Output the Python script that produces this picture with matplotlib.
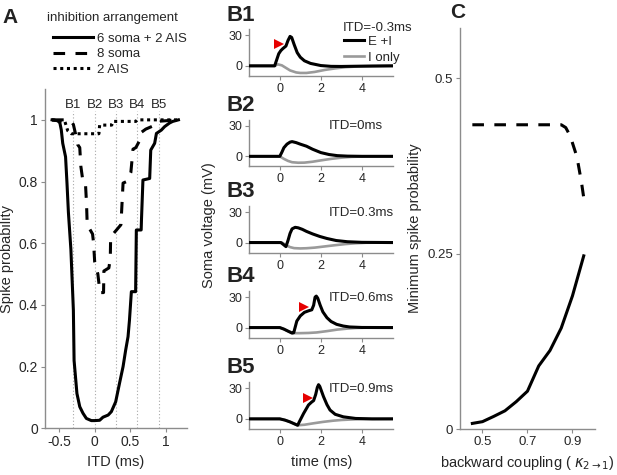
import matplotlib
matplotlib.use("Agg")
import matplotlib.pyplot as plt
from matplotlib.lines import Line2D

plt.rcParams['font.family'] = ['Liberation Sans', 'DejaVu Sans']
plt.rcParams['axes.unicode_minus'] = False

# ---------------- data ----------------
# Panel A: spike probability vs ITD
itd_solid = [-0.60, -0.52, -0.49, -0.47, -0.45, -0.41, -0.39, -0.37, -0.335, -0.30, -0.29, -0.25,
             -0.21, -0.165, -0.117, -0.047, 0.0, 0.07, 0.117, 0.19, 0.235, 0.296, 0.35, 0.40,
             0.437, 0.47, 0.49, 0.517, 0.577, 0.587, 0.655, 0.66, 0.68, 0.775, 0.79, 0.845,
             0.87, 0.94, 0.985, 1.056, 1.10, 1.18]
prob_solid = [1.0, 0.997, 0.99, 0.967, 0.924, 0.88, 0.795, 0.70, 0.58, 0.383, 0.22, 0.113,
              0.07, 0.049, 0.032, 0.025, 0.025, 0.026, 0.036, 0.043, 0.054, 0.086, 0.146, 0.2,
              0.254, 0.297, 0.35, 0.443, 0.443, 0.643, 0.643, 0.68, 0.805, 0.81, 0.902, 0.924,
              0.956, 0.967, 0.978, 0.99, 0.995, 1.0]
itd_dash = [-0.60, -0.35, -0.30, -0.27, -0.24, -0.21, -0.195, -0.165, -0.13, -0.115, -0.105,
            -0.03, -0.015, 0.0, 0.045, 0.06, 0.07, 0.125, 0.13, 0.20, 0.22, 0.225, 0.26, 0.37,
            0.39, 0.40, 0.45, 0.51, 0.53, 0.54, 0.58, 0.65, 0.66, 0.72, 0.82, 0.87, 1.18]
prob_dash = [1.0, 1.0, 0.985, 0.955, 0.92, 0.91, 0.85, 0.80, 0.795, 0.73, 0.66, 0.63, 0.60,
             0.54, 0.50, 0.47, 0.44, 0.44, 0.51, 0.52, 0.55, 0.62, 0.63, 0.66, 0.75, 0.795,
             0.80, 0.83, 0.88, 0.905, 0.91, 0.94, 0.96, 0.97, 0.98, 0.995, 1.0]
itd_dot = [-0.60, -0.42, -0.38, -0.33, 0.06, 0.07, 0.24, 0.26, 0.58, 0.60, 1.18]
prob_dot = [1.0, 0.995, 0.965, 0.955, 0.955, 0.983, 0.983, 0.995, 0.995, 1.0, 1.0]
legend_title_A = 'inhibition arrangement'
legend_labels_A = ['6 soma + 2 AIS', '8 soma', '2 AIS']
itd_marks = [-0.3, 0.0, 0.3, 0.6, 0.9]
itd_mark_labels = ['B1', 'B2', 'B3', 'B4', 'B5']

# Panel B: soma voltage traces
b_titles = ['ITD=-0.3ms', 'ITD=0ms', 'ITD=0.3ms', 'ITD=0.6ms', 'ITD=0.9ms']
b1_t_ei = [-1.5, -0.25, -0.15, -0.05, 0.05, 0.15, 0.3, 0.4, 0.5, 0.58, 0.7, 0.85, 1.0, 1.2, 1.5, 2.0, 2.5, 3.0, 4.0, 5.5]
b1_v_ei = [0, 0, 6, 12, 15, 17, 19.5, 25, 29, 28, 21, 13, 8.5, 5, 2.4, 0.3, -0.5, -0.6, -0.3, 0]
b1_t_i = [-1.5, -0.25, -0.1, 0.1, 0.3, 0.5, 0.8, 1.0, 1.3, 1.7, 2.2, 2.7, 3.2, 3.8, 4.5, 5.5]
b1_v_i = [0, 0, 1.5, 0.5, -2, -4.5, -6.5, -7, -7, -6, -4, -2.5, -1.3, -0.6, -0.2, 0]

b2_t_ei = [-1.5, 0.0, 0.1, 0.2, 0.35, 0.5, 0.6, 0.8, 1.0, 1.3, 1.6, 2.0, 2.4, 2.8, 3.3, 4.0, 5.5]
b2_v_ei = [0, 0, 4, 8.5, 12, 14, 14.5, 13.5, 12, 10, 7, 3.7, 1.8, 0.7, 0.2, 0, 0]
b2_t_i = [-1.5, 0.0, 0.2, 0.4, 0.6, 0.9, 1.2, 1.6, 2.0, 2.5, 3.0, 3.5, 4.2, 5.5]
b2_v_i = [0, 0, -2.5, -4.5, -5.8, -6.3, -6.2, -5.3, -4, -2.5, -1.3, -0.5, -0.1, 0]

b3_t_ei = [-1.5, 0.05, 0.15, 0.3, 0.4, 0.5, 0.6, 0.75, 0.9, 1.1, 1.3, 1.6, 1.95, 2.3, 2.75, 3.3, 4.0, 5.5]
b3_v_ei = [0, 0, -1.5, -4, 2, 9, 13.5, 15, 14.5, 13, 11, 8.5, 6, 4, 2, 0.8, 0.2, 0]
b3_t_i = [-1.5, 0.1, 0.3, 0.5, 0.7, 1.0, 1.3, 1.7, 2.2, 2.7, 3.2, 3.7, 4.2, 5.5]
b3_v_i = [0, 0, -2.5, -4.5, -5.5, -5.8, -5.6, -5, -3.8, -2.6, -1.5, -0.7, -0.2, 0]

b4_t_ei = [-1.5, 0.0, 0.2, 0.4, 0.6, 0.68, 0.83, 1.0, 1.2, 1.4, 1.56, 1.65, 1.72, 1.78, 1.85, 1.97, 2.1, 2.3, 2.5, 2.77, 3.1, 3.4, 4.0, 5.5]
b4_v_ei = [0, 0, -1.5, -3.5, -5.5, -5, 6.4, 11.5, 15, 16.5, 17.5, 22, 30, 31, 29, 22, 15.5, 9.7, 6, 3.2, 1.5, 0.6, 0.1, 0]
b4_t_i = [-1.5, 0.0, 0.2, 0.4, 0.68, 1.0, 1.4, 1.8, 2.3, 2.8, 3.3, 3.7, 4.2, 5.5]
b4_v_i = [0, 0, -1.5, -3.5, -5.5, -5.5, -5.3, -4.8, -3.5, -2, -1, -0.4, -0.1, 0]

b5_t_ei = [-1.5, 0.0, 0.25, 0.5, 0.7, 0.87, 0.95, 1.16, 1.4, 1.55, 1.65, 1.75, 1.83, 1.89, 1.95, 2.13, 2.3, 2.45, 2.7, 3.1, 3.7, 4.5, 5.5]
b5_v_ei = [0, 0, -1.2, -3, -4.8, -6.3, -3, 5.3, 13.7, 16.5, 18, 24, 31, 33.7, 32, 22, 14, 8.7, 4.5, 2, 0.4, 0, 0]
b5_t_i = [-1.5, 0.0, 0.25, 0.5, 0.87, 1.2, 1.6, 2.1, 2.6, 3.0, 3.4, 4.0, 5.5]
b5_v_i = [0, 0, -1.2, -3, -6.3, -5.8, -4.5, -3, -1.8, -1.1, -0.7, -0.2, 0]

# red arrowheads (panel index, time, voltage)
arrow_panels = [0, 3, 4]
arrow_t = [-0.05, 1.16, 1.36]
arrow_v = [22, 20.5, 20.7]

# Panel C
kappa_solid = [0.455, 0.5, 0.55, 0.6, 0.65, 0.7, 0.725, 0.75, 0.8, 0.85, 0.9, 0.95]
minprob_solid = [0.008, 0.0105, 0.018, 0.026, 0.039, 0.054, 0.072, 0.09, 0.112, 0.144, 0.19, 0.247]
kappa_dash = [0.455, 0.85, 0.87, 0.89, 0.92, 0.94, 0.95]
minprob_dash = [0.434, 0.434, 0.43, 0.418, 0.388, 0.352, 0.33]

# ---------------- styling ----------------
SPINE = '#8c8c8c'
TXT = '#262626'
DASH = (0, (3.8, 3.4))
DOT = (0, (1, 1.2))


def style_axes(ax, fs):
    for s in ['top', 'right']:
        ax.spines[s].set_visible(False)
    for s in ['left', 'bottom']:
        ax.spines[s].set_color(SPINE)
        ax.spines[s].set_linewidth(1.0)
    ax.tick_params(direction='out', length=3, width=0.8, color=SPINE,
                   labelcolor=TXT, labelsize=fs, pad=2)


fig = plt.figure(figsize=(6.17, 4.75), dpi=100)

# ---------------- Panel A ----------------
axA = fig.add_axes([0.0729, 0.0983, 0.2301, 0.7143])
for xm in itd_marks:
    axA.plot([xm, xm], [0, 1.03], color='#a8a8a8', lw=0.8, ls=(0, (1, 2)), zorder=1)
for xm, lab in zip(itd_marks, itd_mark_labels):
    axA.text(xm, 1.048, lab, ha='center', va='center', fontsize=9.5, color=TXT)
axA.plot(itd_solid, prob_solid, color='black', lw=2.2, zorder=3)
axA.plot(itd_dash, prob_dash, color='black', lw=2.2, ls=DASH, zorder=3)
axA.plot(itd_dot, prob_dot, color='black', lw=2.2, ls=DOT, zorder=3)
axA.set_xlim(-0.7, 1.3)
axA.set_ylim(0, 1.1)
axA.set_xticks([-0.5, 0, 0.5, 1])
axA.set_xticklabels(['-0.5', '0', '0.5', '1'])
axA.set_yticks([0, 0.2, 0.4, 0.6, 0.8, 1.0])
axA.set_yticklabels(['0', '0.2', '0.4', '0.6', '0.8', '1'])
style_axes(axA, 10)
axA.set_xlabel('ITD (ms)', fontsize=10.5, color=TXT, labelpad=4)
axA.set_ylabel('Spike probability', fontsize=10.5, color=TXT, labelpad=3)

handles = [Line2D([], [], color='black', lw=2.2),
           Line2D([], [], color='black', lw=2.2, ls=DASH),
           Line2D([], [], color='black', lw=2.2, ls=DOT)]
legA = axA.legend(handles, legend_labels_A,
                  loc='upper left', bbox_to_anchor=(53 / 617, 1 - 32.5 / 475),
                  bbox_transform=fig.transFigure, frameon=False, fontsize=9.5,
                  handlelength=3.0, handletextpad=0.35,
                  labelspacing=0.24, borderpad=0, borderaxespad=0)
for t in legA.get_texts():
    t.set_color(TXT)
fig.text(112.5 / 617, 1 - 18 / 475, legend_title_A, ha='center', va='center',
         fontsize=9.5, color=TXT)

# ---------------- Panel B ----------------
b_bottoms = [0.840, 0.6495, 0.468, 0.289, 0.0968]
traces = [(b1_t_ei, b1_v_ei, b1_t_i, b1_v_i),
          (b2_t_ei, b2_v_ei, b2_t_i, b2_v_i),
          (b3_t_ei, b3_v_ei, b3_t_i, b3_v_i),
          (b4_t_ei, b4_v_ei, b4_t_i, b4_v_i),
          (b5_t_ei, b5_v_ei, b5_t_i, b5_v_i)]
b_axes = []
for i, (bot, tr) in enumerate(zip(b_bottoms, traces)):
    ax = fig.add_axes([0.4036, bot, 0.2327, 0.0983])
    tei, vei, ti, vi = tr
    l_i, = ax.plot(ti, vi, color='#9a9a9a', lw=1.9, zorder=2)
    l_ei, = ax.plot(tei, vei, color='black', lw=2.2, zorder=3)
    ax.set_xlim(-1.5, 5.5)
    ax.set_ylim(-10, 36)
    ax.set_xticks([0, 2, 4])
    ax.set_yticks([0, 30])
    style_axes(ax, 9)
    if i == 0:
        ax.text(3.05, 37, b_titles[i], ha='left', va='center', fontsize=9.5, color=TXT)
        lg = ax.legend([l_ei, l_i], ['E +I', 'I only'], loc='upper left',
                       bbox_to_anchor=(0.66, 0.86), frameon=False, fontsize=9.5,
                       handlelength=1.5, handletextpad=0.3, labelspacing=0.25,
                       borderpad=0, borderaxespad=0)
        for t in lg.get_texts():
            t.set_color(TXT)
    else:
        ax.text(2.41, 29.5, b_titles[i], ha='left', va='center', fontsize=9.5, color=TXT)
    b_axes.append(ax)

for p, t, v in zip(arrow_panels, arrow_t, arrow_v):
    b_axes[p].plot([t], [v], marker='>', markersize=7.5, color='#e60000',
                   markeredgewidth=0, zorder=4)

fig.text(209 / 617, 1 - 225 / 475, 'Soma voltage (mV)', rotation=90, ha='center',
         va='center', fontsize=10.5, color=TXT)
fig.text(322 / 617, 1 - 462 / 475, 'time (ms)', ha='center', va='center',
         fontsize=10.5, color=TXT)

# ---------------- Panel C ----------------
axC = fig.add_axes([0.7455, 0.0968, 0.2188, 0.8442])
axC.plot(kappa_dash, minprob_dash, color='black', lw=2.2, ls=DASH)
axC.plot(kappa_solid, minprob_solid, color='black', lw=2.2)
axC.set_xlim(0.4, 1.0)
axC.set_ylim(0, 0.572)
axC.set_xticks([0.5, 0.7, 0.9])
axC.set_yticks([0, 0.25, 0.5])
axC.set_yticklabels(['0', '0.25', '0.5'])
style_axes(axC, 9.5)
axC.set_ylabel('Minimum spike probability', fontsize=10.5, color=TXT, labelpad=4)
axC.set_xlabel(r'backward coupling ( $\kappa_{2\rightarrow1}$)', fontsize=10.5,
               color=TXT, labelpad=4)

# ---------------- panel letters ----------------
fig.text(2 / 617, 1 - 23 / 475, 'A', fontsize=15, fontweight='bold', color='#222222', va='baseline')
fig.text(450 / 617, 1 - 18 / 475, 'C', fontsize=15, fontweight='bold', color='#222222', va='baseline')
for lab, py in zip(['B1', 'B2', 'B3', 'B4', 'B5'], [21, 111, 197, 282, 373]):
    fig.text(227 / 617, 1 - py / 475, lab, fontsize=16, fontweight='bold',
             color='#222222', va='baseline')

fig.savefig('out.png', dpi=100)
